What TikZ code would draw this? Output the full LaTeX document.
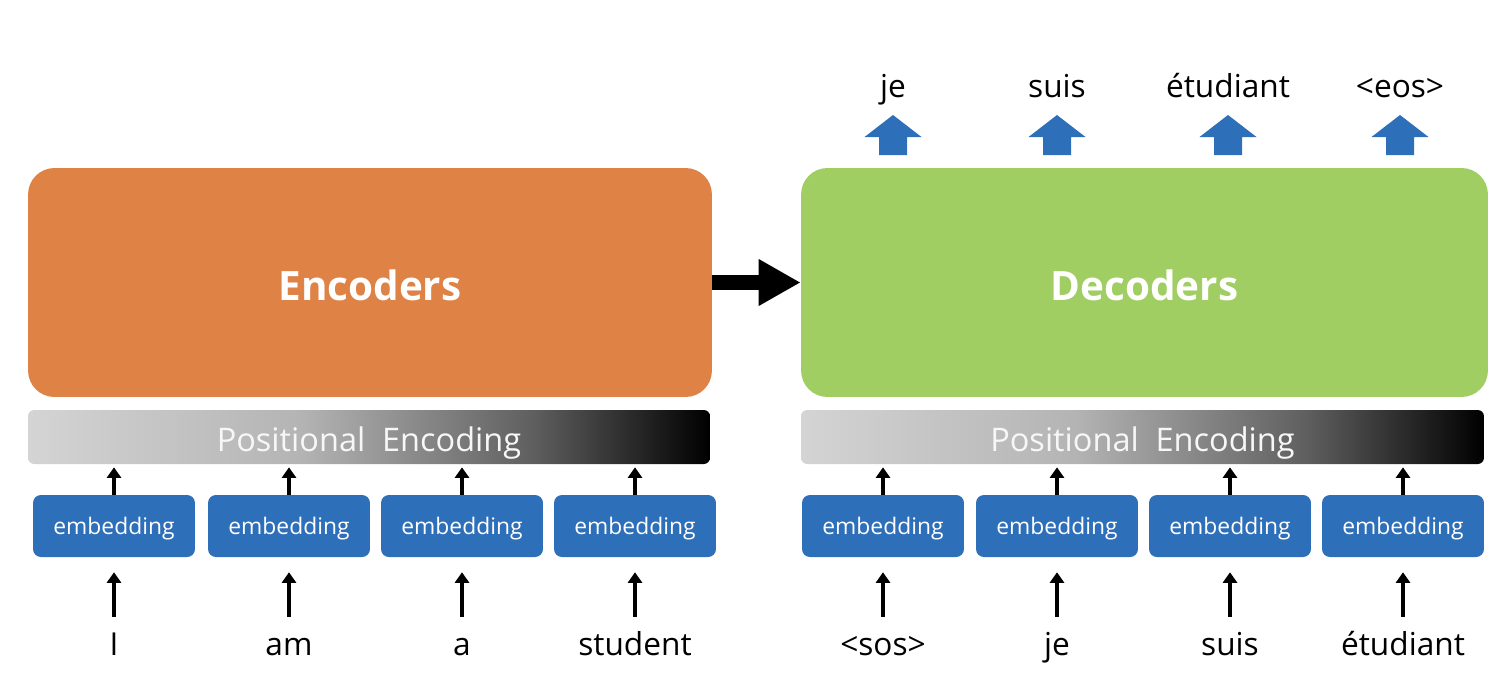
\documentclass[tikz,border=0pt]{standalone}
\usepackage{fontspec}
\setmainfont{Open Sans}
\usetikzlibrary{arrows.meta,calc,positioning}
\definecolor{encorange}{RGB}{223,130,69}
\definecolor{decgreen}{RGB}{160,206,99}
\definecolor{embblue}{RGB}{46,111,185}
\definecolor{pelight}{RGB}{212,212,212}
\definecolor{pemid}{RGB}{180,180,180}
\definecolor{pedark}{RGB}{95,95,95}
\pgfdeclarehorizontalshading{peshade}{100bp}{color(0bp)=(pelight); color(25bp)=(pelight); color(45bp)=(pemid); color(62bp)=(pedark); color(75bp)=(black); color(100bp)=(black)}

\tikzset{
	stackbox/.style={rounded corners=15pt, minimum height=4.58cm, inner sep=0pt,
		text=white, font=\fontsize{23}{25}\selectfont\bfseries, text height=20pt, text depth=0pt},
	pebar/.style={rounded corners=3.5pt, minimum height=1.08cm, inner sep=0pt, shading=peshade,
		text=white!94!gray, font=\fontsize{18.5}{20}\selectfont, text height=17pt, text depth=0pt},
	embbox/.style={fill=embblue, rounded corners=4.5pt, minimum width=3.24cm, minimum height=1.24cm,
		inner sep=0pt, text=white, font=\fontsize{13}{15}\selectfont, text height=10.2pt, text depth=0pt},
	word/.style={anchor=base, inner sep=0pt, font=\fontsize{18}{20}\selectfont, text height=13pt, text depth=0pt},
	feed/.style={-{Triangle[width=8pt,length=6pt]}, line width=1.9pt},
	pass/.style={-{Triangle[width=25pt,length=24pt]}, line width=8.5pt},
}

\begin{document}
\begin{tikzpicture}[x=0.02cm, y=-0.02cm]
	\useasboundingbox (0,0) rectangle (1512,700);

	% encoder / decoder stacks
	\node[stackbox, fill=encorange, minimum width=13.68cm] (enc) at (370,282.5) {Encoders};
	\node[stackbox, fill=decgreen, minimum width=13.74cm] (dec) at (1144.5,282.5) {Decoders};
	\draw[pass] (enc.east) -- (dec.west);

	% positional encoding
	\node[pebar, minimum width=13.64cm] (pe1) at (369,437) {Positional\ \ Encoding};
	\node[pebar, minimum width=13.66cm] (pe2) at (1142.5,437) {Positional\ \ Encoding};

	% inputs
	\foreach \x/\w/\p [count=\i] in {114/I/pe1, 289/am/pe1, 462/a/pe1, 635/student/pe1,
			883/<sos>/pe2, 1057/je/pe2, 1230/suis/pe2, 1403/étudiant/pe2} {
		\node[embbox] (emb\i) at (\x,526) {embedding};
		\node[word] (in\i) at (\x,655) {\w};
		\draw[feed, shorten <=8.5pt, shorten >=8.5pt] (in\i.north) -- (emb\i.south);
		\draw[feed, shorten >=1.7pt] (emb\i.north) -- (emb\i.north |- \p.south);
	}

	% outputs
	\foreach \x/\w [count=\i] in {893/je, 1057/suis, 1228/étudiant, 1400/<eos>} {
		\node[word] (out\i) at (\x,97) {\w};
		\fill[embblue] (\x-14,155) -- (\x-14,137) -- (\x-28.5,137) -- (\x,115)
			-- (\x+28.5,137) -- (\x+14,137) -- (\x+14,155) -- cycle;
	}
\end{tikzpicture}
\end{document}
